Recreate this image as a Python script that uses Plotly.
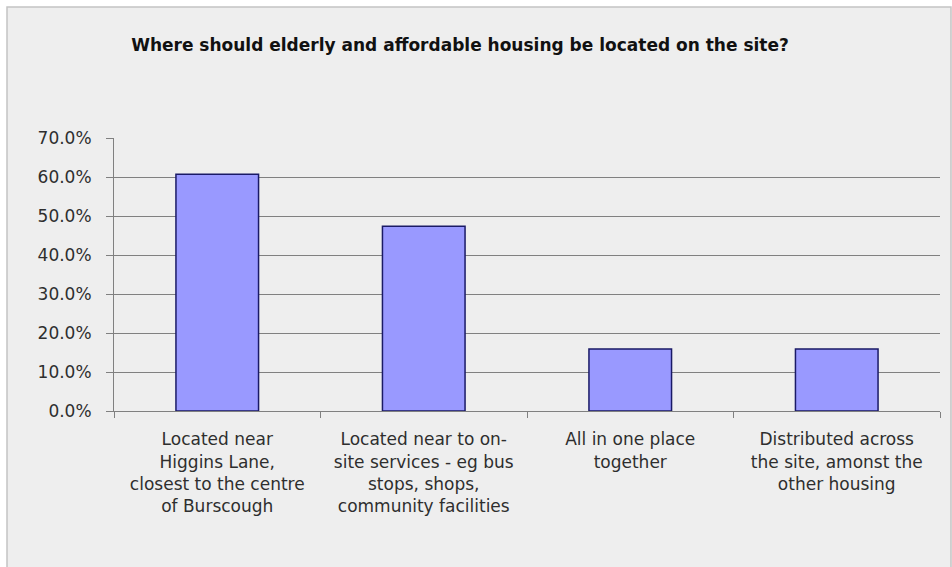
import plotly.graph_objects as go

# Survey responses: preferred location of elderly / affordable housing
categories = [
    "Located near<br>Higgins Lane,<br>closest to the centre<br>of Burscough",
    "Located near to on-<br>site services - eg bus<br>stops, shops,<br>community facilities",
    "All in one place<br>together",
    "Distributed across<br>the site, amonst the<br>other housing",
]
shares = [0.607, 0.474, 0.159, 0.159]
y_ticks = [0.0, 0.1, 0.2, 0.3, 0.4, 0.5, 0.6, 0.7]

W, H = 952, 567
L, R, T, B = 114, 12, 138, 156
pw, ph = W - L - R, H - T - B

def px_x(x):
    return (x - L) / pw

def px_y(y):
    return (H - B - y) / ph

fig = go.Figure(
    go.Bar(
        x=categories,
        y=shares,
        marker=dict(color="#9999ff", line=dict(color="#1a1a66", width=1.5)),
        width=0.4,
        hoverinfo="skip",
    )
)

# grey chart-area panel with a light frame
fig.add_shape(
    type="rect", xref="paper", yref="paper", layer="below",
    x0=px_x(7), x1=px_x(951), y0=px_y(7), y1=px_y(600),
    fillcolor="#eeeeee", line=dict(color="#c4c4c4", width=1.5),
)

fig.update_layout(
    width=W, height=H,
    margin=dict(l=L, r=R, t=T, b=B),
    paper_bgcolor="white",
    plot_bgcolor="rgba(0,0,0,0)",
    showlegend=False,
    font=dict(family="DejaVu Sans, Arial, sans-serif", color="#2e2e2e", size=17),
    title=dict(
        text="<b>Where should elderly and affordable housing be located on the site?</b>",
        x=px_x(460), xanchor="center", xref="paper",
        y=1 - 45 / H, yanchor="middle",
        font=dict(size=17, color="#111111"),
    ),
)

fig.update_yaxes(
    range=[0, 0.7],
    tickvals=y_ticks,
    tickformat=".1%",
    showgrid=True, gridcolor="#808080", gridwidth=1,
    showline=True, linecolor="#808080", linewidth=1,
    ticks="outside", ticklen=7, tickcolor="#808080",
    ticklabelstandoff=11,
    zeroline=False,
    tickfont=dict(size=17),
)
fig.update_xaxes(
    showline=True, linecolor="#808080", linewidth=1,
    ticks="outside", ticklen=6, tickcolor="#808080",
    tickson="boundaries",
    tickangle=0,
    ticklabelstandoff=13,
    tickfont=dict(size=17),
)

fig.write_html("out.html")
